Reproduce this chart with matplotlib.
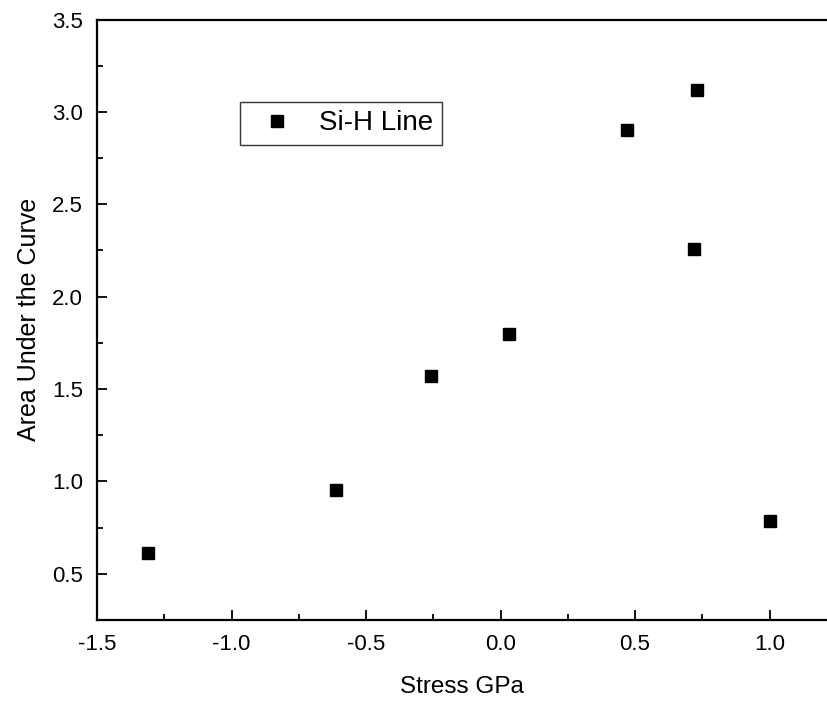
import numpy as np
import matplotlib.pyplot as plt
from matplotlib.ticker import MultipleLocator

plt.rcParams['font.family'] = ['Liberation Sans', 'DejaVu Sans']
plt.rcParams['axes.unicode_minus'] = False

# Si-H line area vs stress
stress = [-1.31, -0.61, -0.26, 0.03, 0.47, 0.73, 0.72, 1.00]
area = [0.61, 0.955, 1.57, 1.80, 2.90, 3.12, 2.26, 0.785]

W, H = 827, 702
fig = plt.figure(figsize=(W / 100, H / 100), dpi=100)
ax = fig.add_axes([97 / W, (H - 620) / H, (W - 97) / W, (620 - 19.5) / H])

ax.plot(stress, area, 's', color='black', markersize=8, label='Si-H Line')

ax.set_xlim(-1.5, 1.2137)
ax.set_ylim(0.25, 3.5)
ax.xaxis.set_minor_locator(MultipleLocator(0.25))
ax.yaxis.set_minor_locator(MultipleLocator(0.25))
ax.set_xticks([-1.5, -1.0, -0.5, 0.0, 0.5, 1.0])
ax.set_yticks([0.5, 1.0, 1.5, 2.0, 2.5, 3.0, 3.5])

ax.spines['right'].set_visible(False)
for s in ('left', 'bottom', 'top'):
    ax.spines[s].set_linewidth(1.6)

ax.tick_params(which='major', direction='in', length=7, width=1.3, labelsize=16, pad=10)
ax.tick_params(which='minor', direction='in', length=4, width=1.3)
ax.tick_params(top=False, right=False)

ax.set_xlabel('Stress GPa', fontsize=17.5, labelpad=15)
ax.set_ylabel('Area Under the Curve', fontsize=18, labelpad=8)

leg = ax.legend(loc='upper left', bbox_to_anchor=(240 / W, 1 - 102 / H),
                bbox_transform=fig.transFigure, fontsize=20, frameon=True,
                fancybox=False, borderpad=0.3, handletextpad=0.5,
                handlelength=2.05, borderaxespad=0)
leg.get_frame().set_edgecolor('black')
leg.get_frame().set_linewidth(1.0)

plt.savefig('out.png', dpi=100)
